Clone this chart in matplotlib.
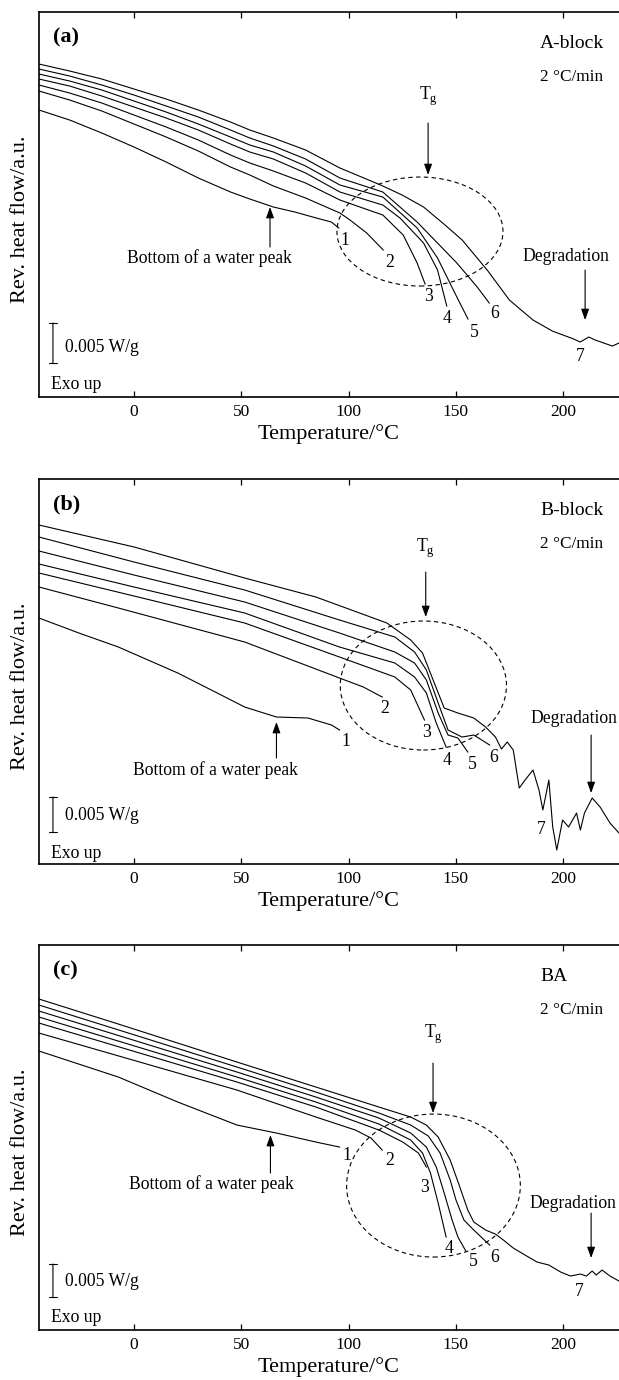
import matplotlib
matplotlib.use("Agg")
import matplotlib.pyplot as plt
from matplotlib.patches import Ellipse

plt.rcParams['font.family'] = ['Liberation Serif', 'DejaVu Serif']
plt.rcParams['mathtext.fontset'] = 'custom'
plt.rcParams['mathtext.rm'] = 'Liberation Serif'

# temperature (degC) and reversing heat flow (a.u.)
# (a) A-block
a1_t = [-44.3, -30, -15, 0, 15, 30, 45, 54, 65, 75, 85, 92, 95.5]
a1_v = [-9.8, -10.8, -12.1, -13.5, -15.0, -16.6, -18.0, -18.7, -19.5, -20.0, -20.6, -21.0, -21.6]
a2_t = [-44.3, -30, -15, 0, 15, 30, 45, 54, 65, 80, 96, 100.7, 108.5, 116.2]
a2_v = [-7.9, -8.8, -9.9, -11.2, -12.5, -13.9, -15.5, -16.3, -17.4, -18.6, -20.1, -20.8, -22.1, -23.8]
a3_t = [-44.3, -30, -15, 0, 15, 30, 45, 54, 65, 80, 96, 116, 125.5, 132, 135.7]
a3_v = [-7.3, -8.1, -9.1, -10.3, -11.5, -12.8, -14.3, -15.1, -15.9, -17.1, -18.8, -20.3, -22.3, -25.1, -27.2]
a4_t = [-44.3, -30, -15, 0, 15, 30, 45, 54, 65, 80, 96, 116, 124, 135, 141.5, 145.8]
a4_v = [-6.7, -7.4, -8.4, -9.5, -10.6, -11.8, -13.2, -14.0, -14.7, -16.1, -18.0, -19.3, -20.6, -23.1, -25.8, -29.4]
a5_t = [-44.3, -30, -15, 0, 15, 30, 45, 54, 65, 80, 96, 116, 132, 141.5, 150.5, 155.7]
a5_v = [-6.2, -6.9, -7.8, -8.9, -10.0, -11.2, -12.5, -13.3, -14.0, -15.4, -17.3, -18.5, -21.6, -24.6, -28.5, -30.7]
a6_t = [-44.3, -30, -15, 0, 15, 30, 45, 54, 65, 80, 96, 116, 132, 150.5, 160, 165.6]
a6_v = [-5.7, -6.4, -7.3, -8.3, -9.4, -10.5, -11.8, -12.6, -13.4, -14.7, -16.6, -18.0, -21.0, -25.1, -27.5, -29.1]
a7_t = [-44.3, -30, -15, 0, 15, 30, 45, 54, 65, 80, 96, 115, 125, 135, 145, 153, 160, 165,
        175, 186, 195, 200, 205, 208, 212, 215, 219, 223, 226.1]
a7_v = [-5.2, -5.9, -6.7, -7.7, -8.7, -9.8, -11.0, -11.8, -12.6, -13.8, -15.6, -17.3, -18.3, -19.5,
        -21.3, -22.8, -24.6, -25.9, -28.8, -30.8, -31.9, -32.3, -32.7, -33.0, -32.5, -32.8, -33.1, -33.4, -33.1]

# (b) B-block
b1_t = [-44.3, -25.7, -7.3, 20.4, 38.8, 51.6, 66.4, 81.1, 92.1, 95.8]
b1_v = [-13.9, -15.4, -16.8, -19.4, -21.4, -22.8, -23.8, -23.9, -24.6, -25.1]
b2_t = [-44.3, -7.3, 20.4, 51.6, 95.8, 106.9, 115.7]
b2_v = [-10.8, -12.9, -14.5, -16.3, -19.9, -20.8, -21.8]
b3_t = [-44.3, 0, 51.6, 95.8, 121.6, 129.0, 135.4]
b3_v = [-9.4, -11.7, -14.4, -17.8, -19.8, -21.1, -24.1]
b4_t = [-44.3, 0, 51.6, 95.8, 121.6, 130.8, 136.3, 140.9, 145.5]
b4_v = [-8.5, -10.8, -13.4, -16.8, -18.4, -19.8, -21.4, -24.4, -26.8]
b5_t = [-44.3, 0, 51.6, 95.8, 121.6, 130.8, 136.3, 141.8, 146.4, 151.0, 155.6]
b5_v = [-7.2, -9.6, -12.3, -15.4, -17.3, -18.4, -20.1, -23.4, -25.6, -25.9, -27.3]
b6_t = [-44.3, 0, 51.6, 95.8, 121.6, 130.8, 136.3, 141.8, 146.4, 152.9, 158.4, 162.1, 165.8]
b6_v = [-5.8, -8.3, -11.1, -14.1, -15.8, -17.3, -19.1, -22.4, -25.1, -25.8, -25.6, -26.1, -26.6]
b7_t = [-44.3, 0.1, 51.6, 84.8, 117.9, 129.0, 134.5, 140.0, 144.6, 151.0, 158.4, 163.9, 168.5,
        171.3, 174.0, 176.8, 179.6, 182.3, 186.0, 188.8, 190.6, 193.4, 195.2, 197.1, 199.8,
        202.6, 206.3, 208.1, 210.0, 213.6, 217.3, 221.9, 226.1]
b7_v = [-4.6, -6.8, -9.9, -11.8, -14.4, -16.1, -17.4, -20.4, -22.9, -23.4, -23.9, -24.8, -25.8,
        -27.0, -26.3, -27.1, -30.9, -30.1, -29.1, -31.1, -33.1, -30.1, -34.8, -37.1, -34.1,
        -34.8, -33.4, -35.1, -33.4, -31.9, -32.8, -34.4, -35.4]

# (c) BA
c1_t = [-44.3, -7.3, 20.4, 48.0, 66.4, 84.8, 95.8]
c1_v = [-10.6, -13.2, -15.7, -18.0, -18.8, -19.7, -20.2]
c2_t = [-44.3, 48.0, 84.8, 103.2, 110.5, 115.7]
c2_v = [-8.8, -14.5, -17.2, -18.5, -19.3, -20.5]
c3_t = [-44.3, 48.0, 84.8, 114.2, 125.3, 132.6, 136.3]
c3_v = [-7.8, -13.7, -16.2, -18.5, -19.7, -20.8, -22.2]
c4_t = [-44.3, 48.0, 84.8, 114.2, 129.0, 134.5, 138.2, 141.8, 145.5]
c4_v = [-7.2, -13.2, -15.7, -17.9, -19.5, -20.8, -22.8, -25.8, -29.2]
c5_t = [-44.3, 48.0, 84.8, 114.2, 129.0, 136.3, 140.9, 144.6, 148.3, 151.0, 154.7]
c5_v = [-6.6, -12.7, -15.2, -17.3, -18.8, -20.2, -22.2, -24.8, -27.5, -29.2, -30.6]
c6_t = [-44.3, 48.0, 84.8, 114.2, 129.0, 137.2, 142.7, 147.4, 150.1, 153.8, 158.4, 165.8]
c6_v = [-6.0, -12.2, -14.7, -16.8, -18.0, -19.1, -20.8, -23.5, -25.5, -27.5, -28.5, -30.0]
c7_t = [-44.3, -7.3, 48.0, 84.8, 114.2, 129.0, 136.3, 141.8, 147.4, 151.9, 155.6, 158.4, 163.9,
        168.5, 172.2, 176.8, 182.3, 187.9, 193.4, 198.9, 203.5, 208.1, 210.9, 213.6, 215.5,
        218.2, 221.9, 226.1]
c7_v = [-5.4, -7.9, -11.7, -14.2, -16.2, -17.2, -18.0, -19.2, -21.5, -24.2, -26.5, -27.7, -28.5,
        -28.9, -29.5, -30.3, -31.0, -31.7, -32.0, -32.7, -33.1, -32.9, -33.1, -32.6, -33.0,
        -32.5, -33.1, -33.6]

panel_tags = ['(a)', '(b)', '(c)']
sample_names = ['A-block', 'B-block', 'BA']
rate_text = '2 \u00b0C/min'
curve_labels = ['1', '2', '3', '4', '5', '6', '7']
x_ticks = [0, 50, 100, 150, 200]
scale_bar_len = [4.0, 3.5, 3.3]   # length of the 0.005 W/g bar in each panel

curves = [
    [(a1_t, a1_v), (a2_t, a2_v), (a3_t, a3_v), (a4_t, a4_v), (a5_t, a5_v), (a6_t, a6_v), (a7_t, a7_v)],
    [(b1_t, b1_v), (b2_t, b2_v), (b3_t, b3_v), (b4_t, b4_v), (b5_t, b5_v), (b6_t, b6_v), (b7_t, b7_v)],
    [(c1_t, c1_v), (c2_t, c2_v), (c3_t, c3_v), (c4_t, c4_v), (c5_t, c5_v), (c6_t, c6_v), (c7_t, c7_v)],
]

# annotation layout for each panel (data coordinates)
layout = [
    dict(nums=[(98.4, -22.8), (119.3, -25.0), (137.5, -28.4), (145.9, -30.6), (158.5, -32.0),
               (168.3, -30.1), (207.9, -34.4)],
         ell=(133.3, -21.95, 77.4, 10.9), tg=(137.1, -9.6, -11.1, -16.3),
         water=(63.4, -23.5, -19.5), water_txt=(35, -24.6),
         deg_txt=(201.4, -24.4), deg=(210.3, -25.8, -30.8),
         bar=-31.1, bar_txt=-33.5, exo=-37.2, bottom=0.7123),
    dict(nums=[(98.6, -26.2), (117.0, -22.9), (136.3, -25.3), (146.1, -28.1), (157.5, -28.5),
               (167.6, -27.8), (190.0, -35.0)],
         ell=(134.9, -20.65, 77.5, 12.9), tg=(136.0, -8.1, -9.3, -13.8),
         water=(66.4, -27.9, -24.3), water_txt=(37.8, -29.1),
         deg_txt=(204.9, -23.9), deg=(213.1, -25.6, -31.4),
         bar=-31.8, bar_txt=-33.6, exo=-37.4, bottom=0.3739),
    dict(nums=[(99.2, -21.0), (119.4, -21.5), (135.4, -24.2), (147.0, -30.3), (158.4, -31.6),
               (168.2, -31.2), (207.7, -34.6)],
         ell=(139.6, -24.05, 81.0, 14.3), tg=(139.4, -10.1, -11.8, -16.8),
         water=(63.6, -22.8, -19.0), water_txt=(36, -23.9),
         deg_txt=(204.4, -25.8), deg=(213.1, -26.8, -31.3),
         bar=-31.9, bar_txt=-33.6, exo=-37.2, bottom=0.0362),
]

fig = plt.figure(figsize=(6.19, 13.8), dpi=100)
arrow_kw = dict(arrowstyle='-|>,head_length=0.55,head_width=0.2', color='k', lw=0.8,
                mutation_scale=12, shrinkA=0, shrinkB=0)
fs = 12.7

for i in range(3):
    lay = layout[i]
    ax = fig.add_axes([39 / 619, lay['bottom'], 580 / 619, 385 / 1380])
    for t, v in curves[i]:
        ax.plot(t, v, color='k', lw=0.8)
    ax.set_xlim(-44.3, 226.1)
    ax.set_ylim(-38.5, 0)
    ax.set_xticks(x_ticks)
    ax.set_yticks([])
    ax.tick_params(axis='x', direction='in', top=True, length=4, width=0.9,
                   labelsize=12.5, pad=5)
    ax.spines['right'].set_visible(False)
    for s in ['left', 'top', 'bottom']:
        ax.spines[s].set_linewidth(1.2)
    ax.set_xlabel('Temperature/\u00b0C', fontsize=16, labelpad=3)
    ax.set_ylabel('Rev. heat flow/a.u.', fontsize=16)
    ax.yaxis.set_label_coords(-0.016, 0.462)

    # curve numbers
    for lab, (x, y) in zip(curve_labels, lay['nums']):
        ax.text(x, y, lab, fontsize=fs, ha='center', va='center')

    # dashed Tg ellipse and arrows
    ex, ey, ew, eh = lay['ell']
    ax.add_patch(Ellipse((ex, ey), ew, eh, fill=False, lw=0.8, ls=(0, (4, 3)), color='k'))
    tx, ty, ta, tb = lay['tg']
    ax.text(tx, ty, 'T$_\\mathregular{g}$', fontsize=fs, ha='center', va='bottom')
    ax.annotate('', xy=(tx, tb), xytext=(tx, ta), arrowprops=arrow_kw)

    wx, wa, wb = lay['water']
    ax.annotate('', xy=(wx, wb), xytext=(wx, wa), arrowprops=arrow_kw)
    ax.text(*lay['water_txt'], 'Bottom of a water peak', fontsize=fs, ha='center', va='center')

    dx, da, db = lay['deg']
    ax.annotate('', xy=(dx, db), xytext=(dx, da), arrowprops=arrow_kw)
    ax.text(*lay['deg_txt'], 'Degradation', fontsize=fs, ha='center', va='center')

    # scale bar
    ax.annotate('', xy=(-37.8, lay['bar'] - scale_bar_len[i]), xytext=(-37.8, lay['bar']),
                arrowprops=dict(arrowstyle='|-|,widthA=0.25,widthB=0.25', color='k', lw=0.8,
                                mutation_scale=12, shrinkA=0, shrinkB=0))
    ax.text(-32.2, lay['bar_txt'], '0.005 W/g', fontsize=fs, ha='left', va='center')
    ax.text(-38.7, lay['exo'], 'Exo up', fontsize=fs, ha='left', va='center')

    ax.text(0.024, 0.933, panel_tags[i], transform=ax.transAxes, fontsize=16,
            fontweight='bold', ha='left', va='center')
    ax.text(0.864, 0.917, sample_names[i], transform=ax.transAxes, fontsize=14,
            ha='left', va='center')
    ax.text(0.864, 0.830, rate_text, transform=ax.transAxes, fontsize=12.4,
            ha='left', va='center')

fig.savefig('out.png', dpi=100)
